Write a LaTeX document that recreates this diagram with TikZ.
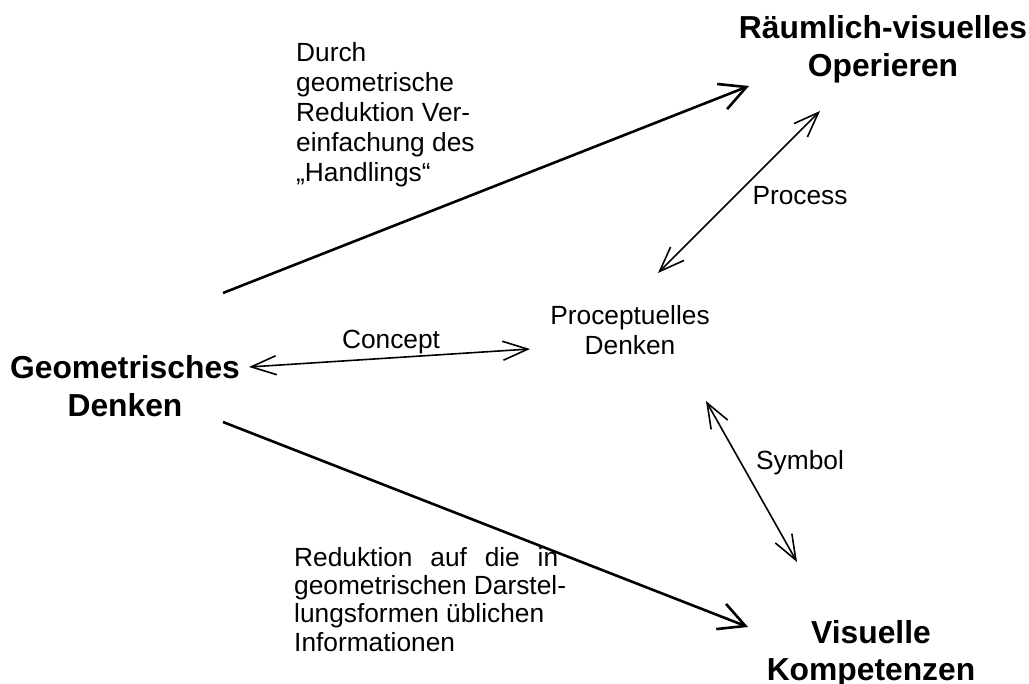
\documentclass[tikz,border=0pt]{standalone}
\usepackage{fontspec}
\setmainfont{Liberation Sans}
\usetikzlibrary{arrows.meta,calc}

% Node positions are given at the baseline of each label's last line.
\tikzset{
  bigtitle/.style={font=\bfseries\fontsize{31.8}{38}\selectfont, align=center, inner sep=0pt, anchor=base},
  plain/.style={font=\fontsize{26.3}{30}\selectfont, inner sep=0pt, anchor=base},
  thickarrow/.style={line width=2.6pt, -{Straight Barb[length=26pt, width=27pt]}},
  thinarrow/.style={line width=1.6pt, {Straight Barb[length=25pt, width=19pt]}-{Straight Barb[length=25pt, width=19pt]}}
}

\begin{document}
\begin{tikzpicture}[x=1pt, y=-1pt]
  \fill[white] (0,0) rectangle (1029,684);
  \useasboundingbox (0,0) rectangle (1029,684);

  % main concepts
  \node[bigtitle] (rv)  at (883,77)  {Räumlich-visuelles\\Operieren};
  \node[bigtitle] (geo) at (125,417) {Geometrisches\\Denken};
  \node[bigtitle, font=\bfseries\fontsize{31.8}{37}\selectfont] (vk) at (871,680) {Visuelle\\Kompetenzen};
  \node[plain, align=center] (proc) at (630,355) {Proceptuelles\\Denken};

  % explanatory texts
  \node[plain, align=left, anchor=base west] (durch) at (296,182)
    {Durch\\geometrische\\Reduktion Ver-\\einfachung des\\„Handlings“};
  \node[plain, align=left, anchor=base west, font=\fontsize{26.3}{28.3}\selectfont] (redu) at (294,651)
    {\makebox[264pt][s]{Reduktion auf die in}\\geometrischen Darstel-\\lungsformen üblichen\\Informationen};

  % connector labels
  \node[plain] (lconcept) at (391,349) {Concept};
  \node[plain] (lprocess) at (800,205) {Process};
  \node[plain] (lsymbol)  at (800,470) {Symbol};

  % connectors
  \draw[thickarrow] ($(geo.base)+(98,-124)$) -- ($(rv.base)+(-134,9)$);
  \draw[thickarrow] ($(geo.base)+(98,5)$) -- ($(vk.base)+(-123,-53)$);
  \draw[thinarrow] ($(geo.base)+(124,-50)$) -- ($(proc.base)+(-100,-6)$);
  \draw[thinarrow] ($(proc.base)+(28,-82)$) -- ($(rv.base)+(-63,34)$);
  \draw[thinarrow] ($(proc.base)+(76,46)$) -- ($(vk.base)+(-74,-118)$);
\end{tikzpicture}
\end{document}
